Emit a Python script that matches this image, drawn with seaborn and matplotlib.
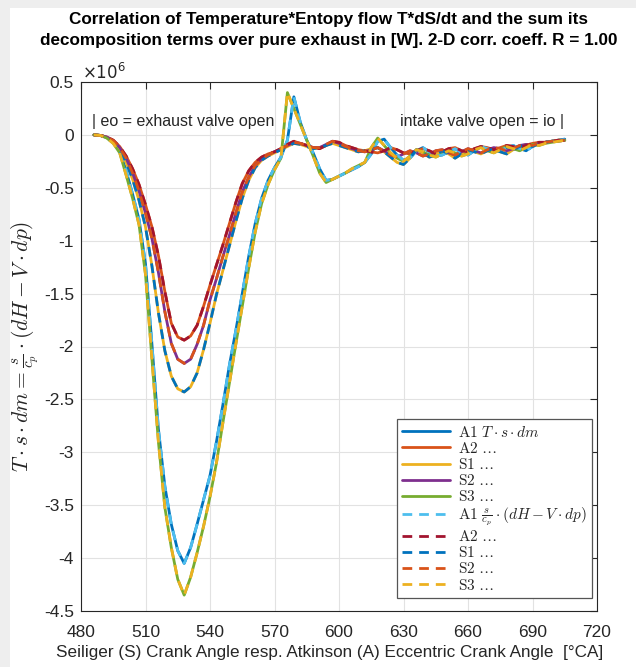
import matplotlib
matplotlib.use("Agg")
import matplotlib.pyplot as plt
from matplotlib.patches import Rectangle
from matplotlib.ticker import FuncFormatter
import numpy as np
import pandas as pd
import seaborn as sns

# Crank angle grid [°CA]
crank_angle = list(range(486, 706, 3))

# Entropy flow T*s*dm in units of 1e6 W
a1_flow = [
    0, -0.005, -0.025, -0.07, -0.15, -0.34, -0.56, -0.80, -1.22, -1.98,
    -2.78, -3.32, -3.68, -3.93, -4.05, -3.90, -3.68, -3.45, -3.22, -2.90,
    -2.55, -2.18, -1.85, -1.50, -1.15, -0.84, -0.60, -0.43, -0.31, -0.21,
    -0.05, 0.36, 0.12, -0.05, -0.17, -0.32, -0.43, -0.42, -0.39, -0.36,
    -0.33, -0.30, -0.26, -0.18, -0.06, -0.04, -0.12, -0.19, -0.24, -0.22,
    -0.15, -0.12, -0.16, -0.20, -0.19, -0.16, -0.13, -0.17, -0.19, -0.15,
    -0.11, -0.13, -0.16, -0.15, -0.12, -0.10, -0.13, -0.15, -0.11, -0.08,
    -0.07, -0.06, -0.05, -0.04,
]
a2_flow = [
    0, -0.005, -0.02, -0.05, -0.11, -0.20, -0.32, -0.47, -0.66, -0.87,
    -1.14, -1.48, -1.78, -1.91, -1.94, -1.90, -1.80, -1.62, -1.42, -1.23,
    -1.04, -0.84, -0.64, -0.46, -0.34, -0.26, -0.21, -0.18, -0.16, -0.13,
    -0.09, -0.06, -0.08, -0.10, -0.12, -0.13, -0.10, -0.06, -0.07, -0.10,
    -0.12, -0.14, -0.15, -0.16, -0.17, -0.15, -0.12, -0.14, -0.17, -0.18,
    -0.15, -0.13, -0.15, -0.18, -0.16, -0.13, -0.12, -0.15, -0.16, -0.13,
    -0.11, -0.12, -0.14, -0.12, -0.10, -0.11, -0.12, -0.10, -0.08, -0.07,
    -0.07, -0.06, -0.05, -0.05,
]
s1_flow = [
    0, -0.005, -0.025, -0.06, -0.14, -0.26, -0.42, -0.62, -0.87, -1.24,
    -1.68, -2.04, -2.28, -2.40, -2.43, -2.38, -2.25, -2.03, -1.78, -1.51,
    -1.28, -1.05, -0.82, -0.60, -0.43, -0.31, -0.24, -0.20, -0.17, -0.14,
    -0.11, -0.08, -0.09, -0.11, -0.13, -0.12, -0.10, -0.08, -0.10, -0.12,
    -0.14, -0.16, -0.15, -0.13, -0.12, -0.16, -0.21, -0.26, -0.28, -0.22,
    -0.14, -0.17, -0.21, -0.19, -0.15, -0.18, -0.22, -0.18, -0.14, -0.16,
    -0.18, -0.15, -0.13, -0.16, -0.18, -0.14, -0.11, -0.09, -0.11, -0.08,
    -0.07, -0.06, -0.05, -0.05,
]
s2_flow = [
    0, -0.005, -0.02, -0.055, -0.12, -0.22, -0.36, -0.53, -0.74, -0.98,
    -1.30, -1.67, -1.97, -2.12, -2.16, -2.12, -1.98, -1.80, -1.56, -1.36,
    -1.15, -0.95, -0.74, -0.54, -0.40, -0.29, -0.23, -0.19, -0.16, -0.13,
    -0.10, -0.07, -0.08, -0.10, -0.12, -0.12, -0.09, -0.06, -0.08, -0.11,
    -0.13, -0.15, -0.16, -0.14, -0.12, -0.15, -0.19, -0.21, -0.18, -0.15,
    -0.17, -0.20, -0.18, -0.15, -0.14, -0.17, -0.19, -0.16, -0.13, -0.15,
    -0.17, -0.14, -0.12, -0.13, -0.15, -0.13, -0.10, -0.09, -0.10, -0.08,
    -0.07, -0.06, -0.06, -0.05,
]
s3_flow = [
    0, -0.005, -0.03, -0.08, -0.17, -0.38, -0.60, -0.85, -1.32, -2.12,
    -2.90, -3.52, -3.90, -4.20, -4.35, -4.18, -3.95, -3.70, -3.42, -3.10,
    -2.72, -2.35, -1.98, -1.62, -1.26, -0.92, -0.65, -0.47, -0.33, -0.22,
    0.40, 0.25, 0.10, -0.05, -0.20, -0.36, -0.45, -0.42, -0.39, -0.36,
    -0.32, -0.29, -0.26, -0.12, -0.03, -0.10, -0.17, -0.22, -0.25, -0.20,
    -0.14, -0.16, -0.19, -0.21, -0.18, -0.15, -0.17, -0.20, -0.18, -0.14,
    -0.12, -0.15, -0.17, -0.14, -0.11, -0.13, -0.15, -0.12, -0.09, -0.10,
    -0.08, -0.07, -0.06, -0.05,
]

cases = ["A1", "A2", "S1", "S2", "S3"]
flows = [a1_flow, a2_flow, s1_flow, s2_flow, s3_flow]
# Sum of the decomposition terms s/cp*(dH - V*dp): identical to the flow (R = 1.00)
decomposition = [a1_flow, a2_flow, s1_flow, s2_flow, s3_flow]

solid_colors = ["#0072BD", "#D95319", "#EDB120", "#7E2F8E", "#77AC30"]
dashed_colors = ["#4DBEEE", "#A2142F", "#0072BD", "#D95319", "#EDB120"]

y_ticks = [0.5, 0, -0.5, -1, -1.5, -2, -2.5, -3, -3.5, -4, -4.5]
x_ticks = [480, 510, 540, 570, 600, 630, 660, 690, 720]

sns.set_style("whitegrid")
plt.rcParams["font.family"] = ["Liberation Sans", "DejaVu Sans"]
plt.rcParams["mathtext.fontset"] = "cm"
plt.rcParams["axes.unicode_minus"] = False

fig = plt.figure(figsize=(6.36, 6.67), dpi=100)
fig.patch.set_facecolor("white")
# soft window frame on the left and top edges
fig.patches.append(Rectangle((0, 0), 10 / 636, 1, transform=fig.transFigure,
                             facecolor="#eeeeee", edgecolor="none", zorder=-10))
fig.patches.append(Rectangle((0, 1 - 8 / 667), 1, 8 / 667, transform=fig.transFigure,
                             facecolor="#eeeeee", edgecolor="none", zorder=-10))

ax = fig.add_axes([81 / 636, 1 - 611 / 667, 516 / 636, 529 / 667])
ax.set_facecolor("white")

lw = 2.0
for case, vals, col in zip(cases, flows, solid_colors):
    df = pd.DataFrame({"angle": crank_angle, "value": vals})
    label = r"$\mathrm{A1}\ T\cdot s\cdot dm$" if case == "A1" else r"$\mathrm{" + case + r"}\ \ldots$"
    sns.lineplot(data=df, x="angle", y="value", ax=ax, color=col, linewidth=lw,
                 label=label, sort=False)

for case, vals, col in zip(cases, decomposition, dashed_colors):
    df = pd.DataFrame({"angle": crank_angle, "value": vals})
    if case == "A1":
        label = r"$\mathrm{A1}\ \frac{s}{c_p}\cdot(dH - V\cdot dp)$"
    else:
        label = r"$\mathrm{" + case + r"}\ \ldots$"
    sns.lineplot(data=df, x="angle", y="value", ax=ax, color=col, linewidth=lw,
                 label=label, sort=False)
    ax.lines[-1].set_dashes((3.5, 2.5))

ax.set_xlim(480, 720)
ax.set_ylim(-4.5, 0.5)
ax.set_xticks(x_ticks)
ax.set_yticks(y_ticks)
ax.yaxis.set_major_formatter(FuncFormatter(lambda v, p: f"{v:g}"))
ax.xaxis.set_major_formatter(FuncFormatter(lambda v, p: f"{v:g}"))
ax.grid(True, color="#e2e2e2", linewidth=0.8)
for sp in ax.spines.values():
    sp.set_color("#262626")
    sp.set_linewidth(0.8)
ax.tick_params(direction="in", length=5, width=0.8, color="#262626",
               top=True, right=True, labelsize=12.5, labelcolor="#262626")
ax.tick_params(axis="y", pad=5)
ax.tick_params(axis="x", pad=10)

ax.set_xlabel("Seiliger (S) Crank Angle resp. Atkinson (A) Eccentric Crank Angle  [°CA]",
              fontsize=12.3, color="#262626")
ax.xaxis.set_label_coords((330 - 81) / 516, -(653 - 611) / 529)
ax.xaxis.label.set_va("center")
ax.set_ylabel(r"$T\cdot s\cdot dm = \frac{s}{c_p}\cdot(dH - V\cdot dp)$",
              fontsize=15.5, color="#262626")
ax.yaxis.set_label_coords(-(81 - 25) / 516, 0.5)
ax.yaxis.label.set_va("center")

ax.text(485.2, 0.122, "| eo = exhaust valve open", fontsize=11.5, color="#262626",
        ha="left", va="center")
ax.text(704.5, 0.122, "intake valve open = io |", fontsize=11.5, color="#262626",
        ha="right", va="center")

fig.text(82 / 636, 1 - 72 / 667, r"$\times10^{6}$", fontsize=12, color="#262626",
         math_fontfamily="dejavusans", ha="left", va="center")

fig.text(0.517, 1 - 30 / 667,
         "Correlation of Temperature*Entopy flow T*dS/dt and the sum its\n"
         "decomposition terms over pure exhaust in [W]. 2-D corr. coeff. R = 1.00",
         fontsize=12.3, fontweight="bold", ha="center", va="center",
         linespacing=1.45, color="black")

leg = ax.legend(loc="lower right", bbox_to_anchor=(0.990, 0.0246), borderaxespad=0,
                fontsize=11, frameon=True, fancybox=False, framealpha=1,
                edgecolor="#555555", handlelength=3.1, labelspacing=0.08,
                borderpad=0.35, handletextpad=0.55)
leg.get_frame().set_linewidth(0.9)

fig.savefig("out.png", dpi=100, facecolor=fig.get_facecolor())
